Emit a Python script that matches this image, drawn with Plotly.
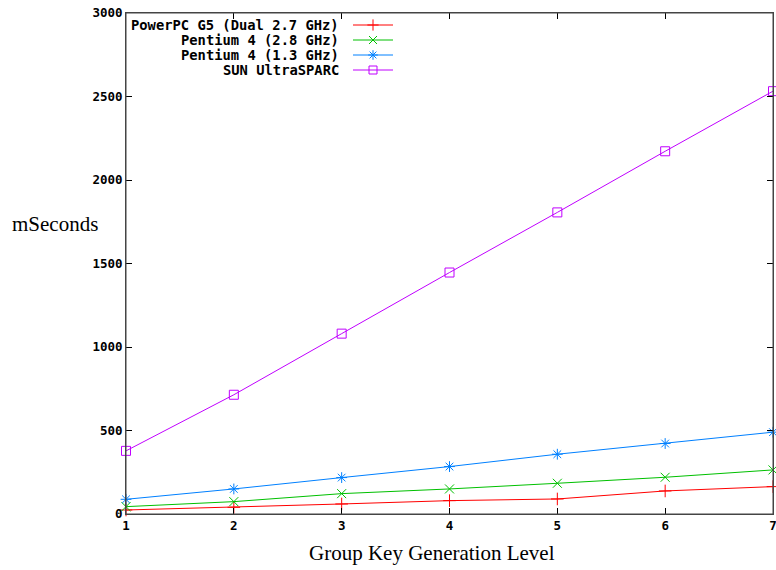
import plotly.graph_objects as go

levels = [1, 2, 3, 4, 5, 6, 7]
powerpc_g5 = [24, 40, 60, 80, 90, 138, 164]
pentium4_28 = [44, 74, 122, 150, 184, 220, 264]
pentium4_13 = [88, 150, 218, 284, 358, 422, 490]
sun_ultrasparc = [378, 714, 1080, 1446, 1806, 2172, 2532]

series_names = ["PowerPC G5 (Dual 2.7 GHz)", "Pentium 4 (2.8 GHz)",
                "Pentium 4 (1.3 GHz)", "SUN UltraSPARC"]
series_values = [powerpc_g5, pentium4_28, pentium4_13, sun_ultrasparc]
colors = ["#ff0000", "#00c000", "#0080ff", "#c000ff"]
symbols = ["cross-thin-open", "x-thin-open", "asterisk-open", "square-open"]
x_ticks = [1, 2, 3, 4, 5, 6, 7]
y_ticks = [0, 500, 1000, 1500, 2000, 2500, 3000]

W, H = 776, 570
L, R, T, B = 126, 3, 13, 56
pw, ph = W - L - R, H - T - B

def px_x(p):
    return (p - L) / pw

def px_y(p):
    return (H - B - p) / ph

fig = go.Figure()
for name, vals, c, s in zip(series_names, series_values, colors, symbols):
    fig.add_trace(go.Scatter(
        x=levels, y=vals, mode="lines+markers", name=name,
        line=dict(color=c, width=1),
        marker=dict(symbol=s, size=9, color=c, line=dict(color=c, width=1)),
        showlegend=False, cliponaxis=False))

# custom gnuplot-style legend (text right, sample on the right)
rows_px = [25, 40, 55, 70]
kx0, kx1 = px_x(353), px_x(393)
annotations = []
for name, c, s, ry in zip(series_names, colors, symbols, rows_px):
    yy = px_y(ry)
    fig.add_trace(go.Scatter(
        x=[kx0, kx1], y=[yy, yy], mode="lines", xaxis="x2", yaxis="y2",
        line=dict(color=c, width=1), showlegend=False, hoverinfo="skip"))
    fig.add_trace(go.Scatter(
        x=[(kx0 + kx1) / 2], y=[yy], mode="markers", xaxis="x2", yaxis="y2",
        marker=dict(symbol=s, size=8, color=c, line=dict(color=c, width=1)),
        showlegend=False, hoverinfo="skip"))
    annotations.append(dict(
        x=px_x(341), y=yy, xref="paper", yref="paper", xanchor="right",
        yanchor="middle", text="<b>" + name + "</b>", showarrow=False,
        font=dict(family="DejaVu Sans Mono", size=13.8, color="#000")))

annotations.append(dict(
    x=px_x(55), y=px_y(224), xref="paper", yref="paper", xanchor="center",
    yanchor="middle", text="mSeconds", showarrow=False,
    font=dict(family="Liberation Serif", size=21, color="#000")))
annotations.append(dict(
    x=px_x(432), y=px_y(553), xref="paper", yref="paper", xanchor="center",
    yanchor="middle", text="Group Key Generation Level", showarrow=False,
    font=dict(family="Liberation Serif", size=21, color="#000")))

tickfont = dict(family="DejaVu Sans Mono", size=12.5, color="#000")
fig.update_layout(
    template="none",
    width=W, height=H,
    margin=dict(l=L, r=R, t=T, b=B, autoexpand=False),
    paper_bgcolor="white", plot_bgcolor="white",
    annotations=annotations,
    shapes=[dict(type="rect", xref="paper", yref="paper", x0=0, x1=1, y0=0, y1=1,
                 line=dict(color="#444", width=1), layer="above")],
    xaxis=dict(range=[1, 7], tickvals=x_ticks,
               ticktext=["<b>%d</b>" % v for v in x_ticks],
               ticks="inside", ticklen=6, tickcolor="#000",
               showline=True, linecolor="#444", linewidth=1, mirror="ticks",
               showgrid=False, zeroline=False, tickfont=tickfont,
               automargin=False, ticklabeloverflow="allow"),
    yaxis=dict(range=[0, 3000], tickvals=y_ticks,
               ticktext=["<b>%d</b>" % v for v in y_ticks],
               ticks="inside", ticklen=6, tickcolor="#000",
               showline=True, linecolor="#444", linewidth=1, mirror="ticks",
               showgrid=False, zeroline=False, tickfont=tickfont,
               automargin=False, ticklabeloverflow="allow"),
    xaxis2=dict(range=[0, 1], overlaying="x", anchor="y2", visible=False),
    yaxis2=dict(range=[0, 1], overlaying="y", anchor="x2", visible=False),
)

fig.write_html("out.html", config={"displayModeBar": False},
               post_script="document.body.style.margin='0';document.body.style.overflow='hidden';")
